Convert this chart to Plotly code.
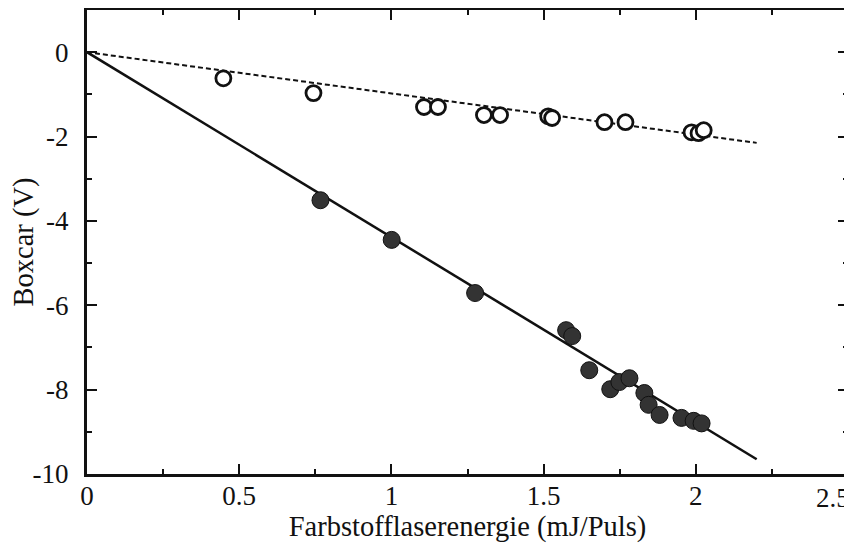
import plotly.graph_objects as go

# Filled circles (upper signal)
filled_x = [0.767, 1.001, 1.275, 1.574, 1.594, 1.650, 1.719, 1.749, 1.782, 1.831, 1.845, 1.881, 1.953, 1.993, 2.019]
filled_y = [-3.51, -4.45, -5.71, -6.59, -6.73, -7.54, -7.99, -7.82, -7.73, -8.08, -8.36, -8.60, -8.67, -8.74, -8.80]

# Open circles
open_x = [0.448, 0.744, 1.107, 1.153, 1.304, 1.357, 1.515, 1.528, 1.700, 1.769, 1.986, 2.009, 2.026]
open_y = [-0.62, -0.97, -1.30, -1.30, -1.49, -1.49, -1.52, -1.56, -1.66, -1.66, -1.90, -1.92, -1.85]

# Linear fits through origin
fit_x = [0, 2.2]
fit_filled_y = [0, -9.65]
fit_open_y = [0, -2.15]

x_ticks = [0, 0.5, 1, 1.5, 2, 2.5]
x_tick_labels = ["0", "0.5", "1", "1.5", "2", ""]
last_x_label = "2.5"
y_ticks = [0, -2, -4, -6, -8, -10]
y_tick_labels = ["0", "-2", "-4", "-6", "-8", "-10"]

font_family = "Liberation Serif, Times New Roman, serif"
tick_size = 27

fig = go.Figure()
fig.add_trace(go.Scatter(x=fit_x, y=fit_filled_y, mode="lines",
                         line=dict(color="#111", width=2.5), showlegend=False))
fig.add_trace(go.Scatter(x=fit_x, y=fit_open_y, mode="lines",
                         line=dict(color="#111", width=2, dash="5px,3px"), showlegend=False))
fig.add_trace(go.Scatter(x=filled_x, y=filled_y, mode="markers",
                         marker=dict(size=17, color="#333", line=dict(color="#111", width=1)),
                         showlegend=False))
fig.add_trace(go.Scatter(x=open_x, y=open_y, mode="markers",
                         marker=dict(size=15, color="white", line=dict(color="#111", width=2.8)),
                         showlegend=False))

axis_common = dict(
    showline=True, linecolor="#111", linewidth=3, mirror="ticks",
    ticks="inside", ticklen=10, tickwidth=1.5, tickcolor="#111",
    showgrid=False, zeroline=False, automargin=False,
    tickfont=dict(family=font_family, size=tick_size, color="#111"),
)

fig.update_xaxes(range=[0, 2.5], tickvals=x_ticks, ticktext=x_tick_labels,
                 ticklabelstandoff=-4,
                 minor=dict(dtick=0.25, ticks="inside", ticklen=5, tickcolor="#111", tickwidth=1.5),
                 title=dict(text="Farbstofflaserenergie (mJ/Puls)", standoff=2,
                            font=dict(family=font_family, size=28.5, color="#111")),
                 **axis_common)
fig.update_yaxes(range=[-10, 1], tickvals=y_ticks, ticktext=y_tick_labels,
                 ticklabelstandoff=10,
                 minor=dict(dtick=1, ticks="inside", ticklen=5, tickcolor="#111", tickwidth=1.5),
                 title=dict(text="Boxcar (V)", standoff=3,
                            font=dict(family=font_family, size=28.5, color="#111")),
                 **axis_common)

fig.add_annotation(x=2.5, y=0, xref="x", yref="paper", yanchor="top", xanchor="right",
                   text=last_x_label, showarrow=False, xshift=4, yshift=-7,
                   font=dict(family=font_family, size=tick_size, color="#111"))

# The page body has an 8px default margin, so the figure is sized to fit the 852x547 window
fig.update_layout(
    width=844, height=539,
    margin=dict(l=79, r=4, t=2, b=73),
    plot_bgcolor="white", paper_bgcolor="white",
)

fig.write_html("out.html")
